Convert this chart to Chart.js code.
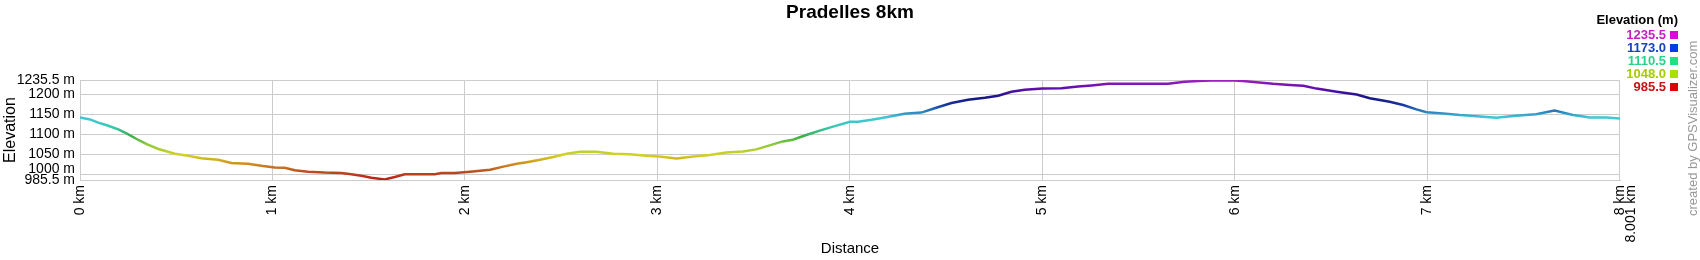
<!DOCTYPE html>
<html>
<head>
<meta charset="utf-8">
<title>Pradelles 8km</title>
<script src="https://cdn.jsdelivr.net/npm/chart.js@4.4.1/dist/chart.umd.min.js"></script>
<style>
  body { margin: 0; background: #fff; font-family: 'Liberation Sans', Arial, sans-serif; }
  #wrap { position: relative; width: 1700px; height: 260px; overflow: hidden; }
  #legend { position: absolute; right: 22px; top: 13px; text-align: right; font-weight: bold; font-size: 13px; }
  #legend .ttl { line-height: 14px; margin-bottom: 2px; color: #000; }
  #legend .row { line-height: 12.9px; height: 12.9px; white-space: nowrap; }
  #legend .sq { display: inline-block; width: 8px; height: 8px; margin-left: 4px; vertical-align: -0px; }
  #credit { position: absolute; left: 1686px; top: 216px; transform: rotate(-90deg); transform-origin: 0 0;
            font-size: 13px; line-height: 14px; color: #999; white-space: nowrap; }
</style>
</head>
<body>
<div id="wrap">
  <canvas id="chart" width="1700" height="260"></canvas>
  <div id="legend"></div>
  <div id="credit">created by GPSVisualizer.com</div>
</div>
<script>
// 距离 (km) / 海拔 (m)
const distKm = [
  0, 0.052, 0.095, 0.147, 0.199, 0.242, 0.294, 0.346, 0.407, 0.493, 0.562, 0.631, 0.718, 0.787, 0.874, 0.943,
  1.012, 1.064, 1.116, 1.185, 1.272, 1.358, 1.410, 1.462, 1.514, 1.583, 1.635, 1.687, 1.773, 1.843, 1.877, 1.946,
  2.026, 2.13, 2.199, 2.268, 2.32, 2.389, 2.458, 2.528, 2.597, 2.683, 2.770, 2.856, 2.943,
  3.012, 3.099, 3.185, 3.272, 3.358, 3.445, 3.514, 3.583, 3.652, 3.704, 3.773, 3.843, 3.912,
  4.0, 4.043, 4.112, 4.182, 4.285, 4.372, 4.441, 4.528, 4.614, 4.701, 4.770, 4.839, 4.908,
  5.0, 5.099, 5.185, 5.254, 5.341, 5.531, 5.652, 5.739, 5.808, 5.877,
  6.0, 6.043, 6.113, 6.199, 6.287, 6.356, 6.425, 6.529, 6.633, 6.701, 6.804, 6.874, 6.943,
  6.995, 7.081, 7.168, 7.254, 7.358, 7.462, 7.566, 7.661, 7.756, 7.843, 7.929, 8.001
];
const elevM = [
  1142, 1137, 1129, 1121, 1112, 1102, 1088, 1075, 1063, 1051, 1046, 1040, 1036, 1028, 1026, 1021,
  1017, 1016, 1010, 1006, 1004, 1003, 1000, 996, 991, 987, 993, 1000, 1000, 1000, 1003, 1003,
  1006, 1011, 1019, 1026, 1030, 1036, 1043, 1051, 1056, 1056, 1051, 1050, 1046,
  1044, 1039, 1044, 1048, 1054, 1057, 1062, 1072, 1082, 1086, 1098, 1109, 1119,
  1131, 1131, 1136, 1142, 1151, 1154, 1165, 1178, 1186, 1191, 1196, 1206, 1211,
  1214, 1215, 1219, 1222, 1226, 1226, 1226, 1231, 1233, 1234,
  1234, 1233, 1230, 1226, 1223, 1221, 1214, 1206, 1199, 1190, 1181, 1173, 1162,
  1155, 1152, 1148, 1145, 1141, 1146, 1150, 1159, 1148, 1142, 1142, 1139
];

const xTickValues = [0, 1, 2, 3, 4, 5, 6, 7, 8];
const xTickLabels = ['0 km', '1 km', '2 km', '3 km', '4 km', '5 km', '6 km', '7 km', ['8 km', '8.001 km']];
const yTickValues = [985.5, 1000, 1050, 1100, 1150, 1200, 1235.5];
// 1000 m 标签上移一点，避免和 985.5 m 重叠
const yTickLabels = ['985.5 m', ['1000 m', ''], '1050 m', '1100 m', '1150 m', '1200 m', '1235.5 m'];

// 图例
const legendValues = ['1235.5', '1173.0', '1110.5', '1048.0', '985.5'];
const legendTextColors = ['#c81ec8', '#1444c0', '#2cd08c', '#a4cc00', '#c41414'];
const legendBoxColors = ['#e000e0', '#0040e0', '#20e080', '#a8e000', '#e00000'];

// 线条颜色随海拔渐变
const gradElev = [985.5, 1005, 1025, 1048, 1075, 1095, 1120, 1142, 1155, 1175, 1190, 1205, 1220, 1235.5];
const gradColor = ['#c01818', '#b84a20', '#d08a20', '#d4d420', '#8cc83c', '#38b048', '#38c8b8', '#40c8d8',
                   '#2888c0', '#1830a0', '#141880', '#4010a0', '#7010b0', '#a020c0'];

const legendEl = document.getElementById('legend');
legendEl.innerHTML = '<div class="ttl">Elevation (m)</div>' + legendValues.map((v, i) =>
  `<div class="row" style="color:${legendTextColors[i]}">${v}<span class="sq" style="background:${legendBoxColors[i]}"></span></div>`
).join('');

Chart.defaults.font.family = "'Liberation Sans', Arial, sans-serif";
Chart.defaults.color = '#000';

function lineGradient(context) {
  const chart = context.chart;
  const { ctx, chartArea, scales } = chart;
  if (!chartArea) return gradColor[0];
  const y0 = scales.y.getPixelForValue(gradElev[0]);
  const y1 = scales.y.getPixelForValue(gradElev[gradElev.length - 1]);
  const g = ctx.createLinearGradient(0, y0, 0, y1);
  const span = gradElev[gradElev.length - 1] - gradElev[0];
  gradElev.forEach((e, i) => g.addColorStop((e - gradElev[0]) / span, gradColor[i]));
  return g;
}

new Chart(document.getElementById('chart'), {
  type: 'line',
  data: {
    datasets: [{
      data: distKm.map((d, i) => ({ x: d, y: elevM[i] })),
      borderColor: lineGradient,
      borderWidth: 2.5,
      pointRadius: 0,
      tension: 0,
      fill: false,
    }],
  },
  options: {
    responsive: false,
    animation: false,
    devicePixelRatio: 1,
    layout: { padding: 0 },
    plugins: {
      legend: { display: false },
      tooltip: { enabled: false },
      title: {
        display: true,
        text: 'Pradelles 8km',
        color: '#000',
        font: { size: 19, weight: 'bold' },
        padding: { top: 1.6, bottom: 55.6 },
      },
    },
    scales: {
      x: {
        type: 'linear',
        min: 0,
        max: 8.001,
        afterBuildTicks: (s) => { s.ticks = xTickValues.map((v) => ({ value: v })); },
        afterFit: (s) => { s.height = 80; },
        grid: { color: '#cccccc', drawTicks: false },
        border: { color: '#cccccc' },
        ticks: {
          autoSkip: false,
          minRotation: 90,
          maxRotation: 90,
          padding: 5,
          font: { size: 14, lineHeight: 0.8 },
          callback: (v, i) => xTickLabels[i],
        },
        title: { display: true, text: 'Distance', font: { size: 15 }, padding: { top: 0, bottom: 2 } },
      },
      y: {
        min: 985.5,
        max: 1235.5,
        afterBuildTicks: (s) => { s.ticks = yTickValues.map((v) => ({ value: v })); },
        afterFit: (s) => { s.width = 80; },
        grid: { color: '#cccccc', drawTicks: false },
        border: { color: '#cccccc' },
        ticks: {
          autoSkip: false,
          padding: 5,
          font: { size: 14, lineHeight: '10px' },
          callback: (v, i) => yTickLabels[i],
        },
        title: { display: true, text: 'Elevation', font: { size: 16 }, padding: { top: 1, bottom: 0 } },
      },
      // 右侧留白（图例区域），让标题按整幅宽度居中
      yRight: {
        position: 'right',
        min: 0,
        max: 1,
        afterFit: (s) => { s.width = 80; },
        grid: { display: false },
        border: { display: false },
        ticks: { display: false },
      },
    },
  },
});
</script>
</body>
</html>
